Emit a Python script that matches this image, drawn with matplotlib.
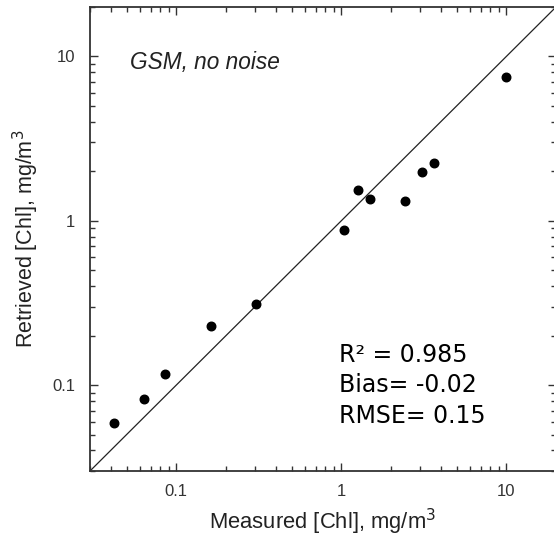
import numpy as np
import matplotlib
matplotlib.use("Agg")
import matplotlib.pyplot as plt
from matplotlib.ticker import LogLocator, FixedFormatter, FixedLocator

# Dados (mg/m3)
measured = [0.042, 0.064, 0.085, 0.163, 0.306, 1.04, 1.27, 1.50, 2.44, 3.10, 3.66, 10.0]
retrieved = [0.059, 0.082, 0.117, 0.229, 0.311, 0.875, 1.53, 1.35, 1.32, 1.97, 2.24, 7.45]

tick_vals = [0.1, 1, 10]
tick_labels = ['0.1', '1', '10']
lims = [0.03, 20]
stats_text = 'R\u00b2 = 0.985\nBias= -0.02\nRMSE= 0.15'

plt.rcParams['font.family'] = ['Liberation Sans', 'DejaVu Sans']

fig = plt.figure(figsize=(5.54, 5.39), dpi=100)
W, H = 554, 539
ax = fig.add_axes([90 / W, (H - 471) / H, (556 - 90) / W, (471 - 7) / H])

ax.plot(lims, lims, color='#222222', lw=0.9, zorder=1)
ax.scatter(measured, retrieved, s=38, color='black', zorder=3)

ax.set_xscale('log')
ax.set_yscale('log')
ax.set_xlim(lims)
ax.set_ylim(lims)

for axis in (ax.xaxis, ax.yaxis):
    axis.set_major_locator(FixedLocator(tick_vals))
    axis.set_major_formatter(FixedFormatter(tick_labels))
    axis.set_minor_locator(LogLocator(base=10, subs=np.arange(2, 10)))
    axis.set_minor_formatter(FixedFormatter([]))

ax.tick_params(which='both', direction='in', top=True, right=True,
               color='#333333', width=1.0, labelsize=12, labelcolor='#333333')
ax.tick_params(which='major', length=6)
ax.tick_params(axis='x', which='major', pad=9)
ax.tick_params(axis='y', which='major', pad=10.5)
ax.tick_params(which='minor', length=3.5)

for sp in ax.spines.values():
    sp.set_color('#333333')
    sp.set_linewidth(1.3)

ax.set_xlabel('Measured [Chl], mg/m$^3$', fontsize=15.8, color='#222222', labelpad=6)
ax.set_ylabel('Retrieved [Chl], mg/m$^3$', fontsize=15.5, color='#222222', labelpad=8)

ax.text(0.086, 0.881, 'GSM, no noise', transform=ax.transAxes, fontsize=16.3,
        style='italic', color='#222222', va='center')
ax.text(0.535, 0.185, stats_text, transform=ax.transAxes, fontsize=17,
        family='DejaVu Sans', va='center', linespacing=1.35)

plt.savefig('out.png', dpi=100)
